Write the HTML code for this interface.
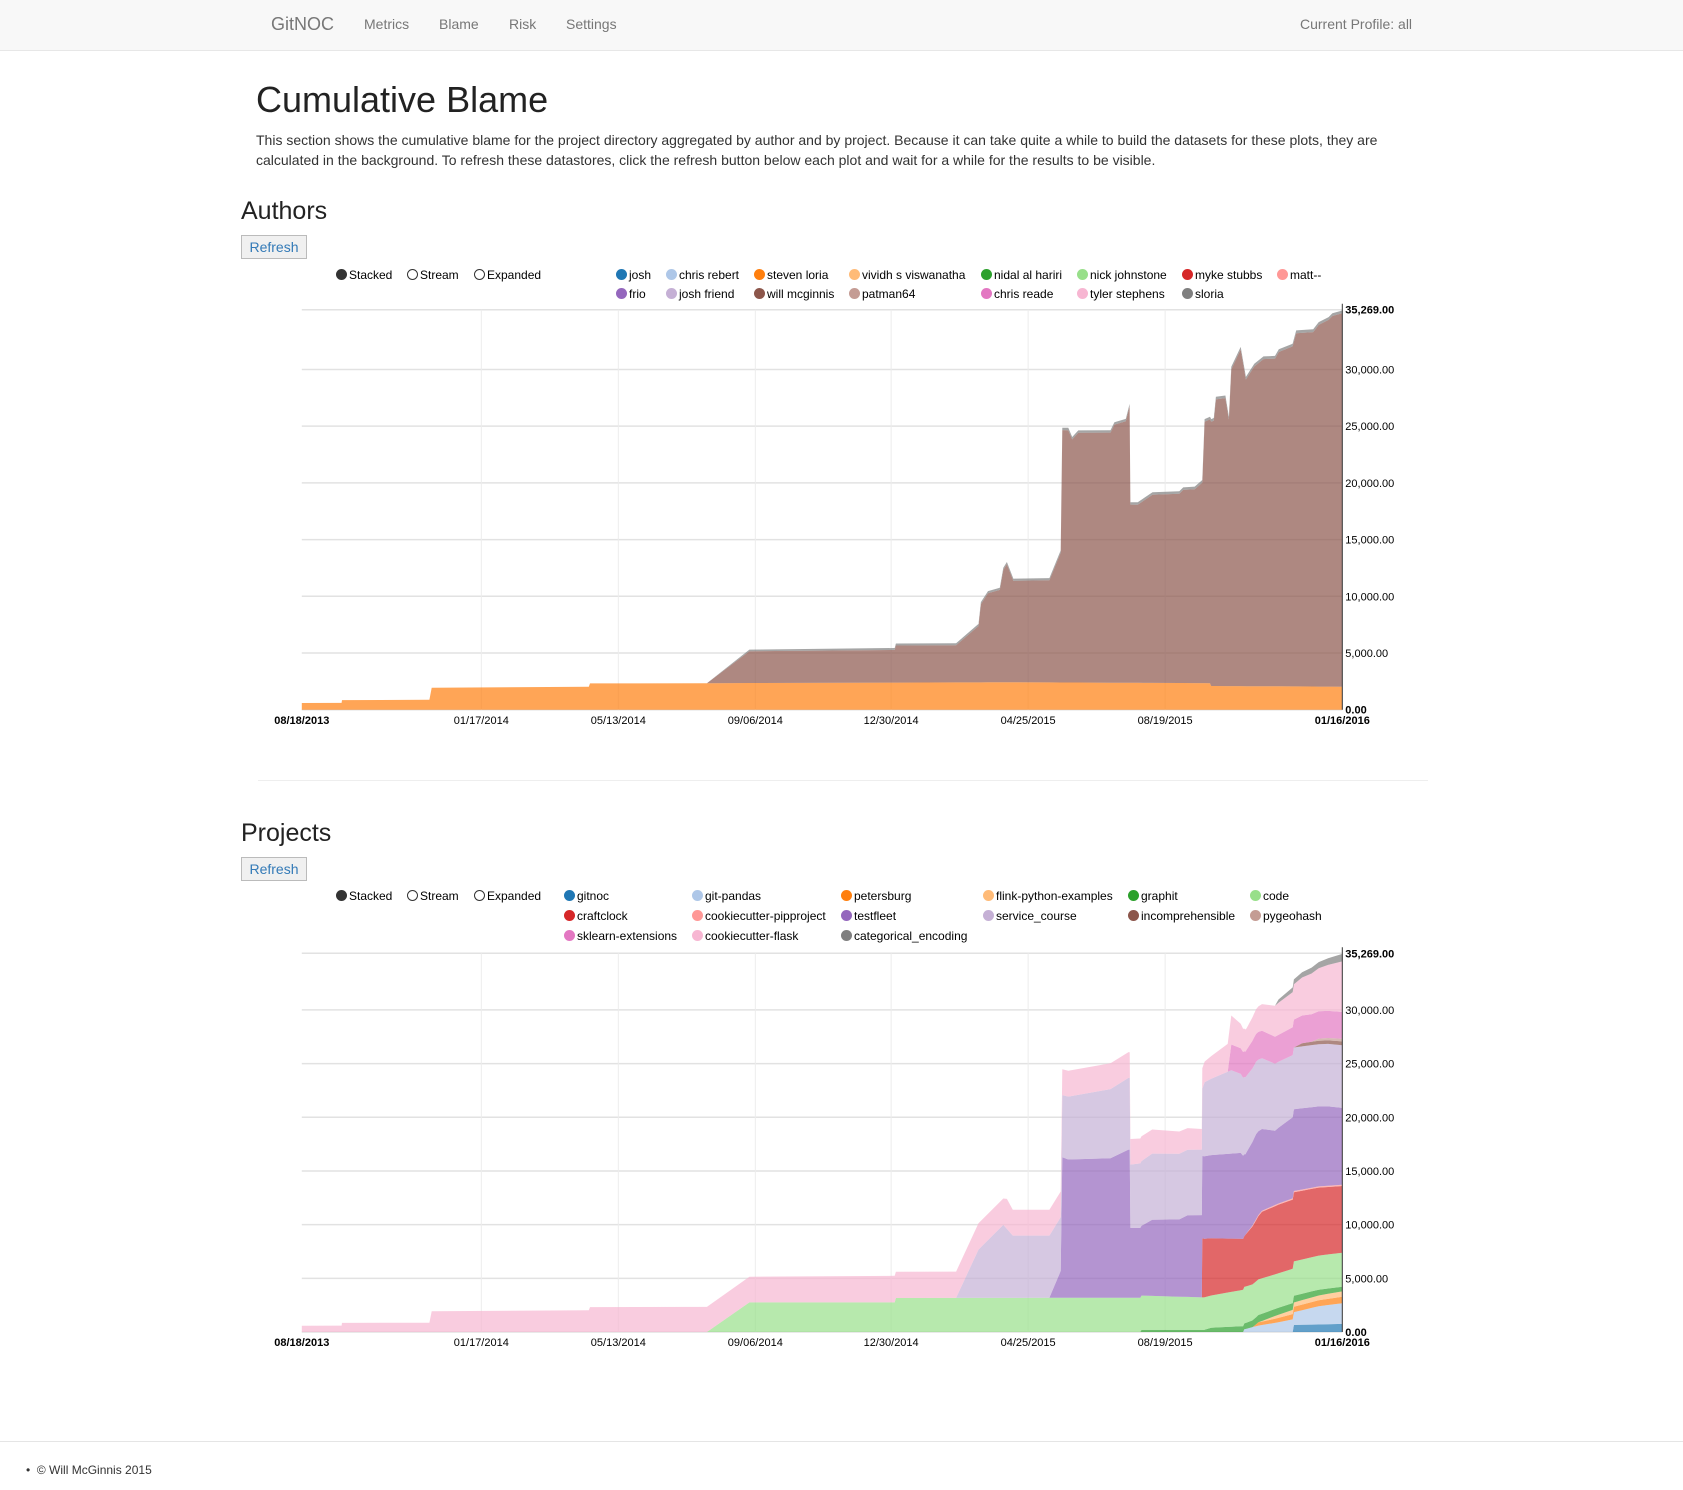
<!DOCTYPE html>
<html><head><meta charset="utf-8"><style>
body{margin:0;width:1683px;height:1490px;position:relative;font-family:"Liberation Sans",sans-serif;color:#333;background:#fff;overflow:hidden}
.abs{position:absolute;white-space:nowrap}
.nav{position:absolute;left:0;top:0;width:1683px;height:50px;background:#f8f8f8;border-bottom:1px solid #e7e7e7}
.nav span{position:absolute;top:16px;font-size:14px;color:#777}
.btn{position:absolute;width:64px;height:22px;border:1px solid #bbb;background:#f0f0f0;color:#337ab7;font-size:14px;text-align:center;line-height:22px;box-sizing:content-box}
.lg{position:absolute;font-size:12px;color:#000;white-space:nowrap}
.dot{display:inline-block;width:11px;height:11px;border-radius:50%;vertical-align:-1px;margin-right:2px;box-sizing:border-box}
svg{position:absolute;left:0;top:0}
</style></head><body>
<div class="nav">
<span style="left:271px;top:14px;font-size:18px">GitNOC</span>
<span style="left:364px">Metrics</span>
<span style="left:439px">Blame</span>
<span style="left:509px">Risk</span>
<span style="left:566px">Settings</span>
<span style="left:1300px">Current Profile: all</span>
</div>
<div class="abs" style="left:256px;top:79px;font-size:36px;color:#222">Cumulative Blame</div>
<div class="abs" style="left:256px;top:130px;font-size:14px;line-height:20px;white-space:normal;width:1160px">This section shows the cumulative blame for the project directory aggregated by author and by project. Because it can take quite a while to build the datasets for these plots, they are calculated in the background. To refresh these datastores, click the refresh button below each plot and wait for a while for the results to be visible.</div>
<div class="abs" style="left:241px;top:197px;font-size:25px;color:#222">Authors</div>
<div class="btn" style="left:241px;top:235px">Refresh</div>
<div class="abs" style="left:241px;top:819px;font-size:25px;color:#222">Projects</div>
<div class="btn" style="left:241px;top:857px">Refresh</div>
<div class="abs" style="left:258px;top:780px;width:1170px;height:1px;background:#eee"></div>
<div class="abs" style="left:0;top:1441px;width:1683px;height:1px;background:#e5e5e5"></div>
<div class="abs" style="left:26px;top:1463px;font-size:12px">•&nbsp;&nbsp;© Will McGinnis 2015</div>
<div id="legends"></div>
<svg id="chart" width="1683" height="1490"></svg>
<script>
const colors=['#1f77b4','#aec7e8','#ff7f0e','#ffbb78','#2ca02c','#98df8a','#d62728','#ff9896','#9467bd','#c5b0d5','#8c564b','#c49c94','#e377c2','#f7b6d2','#7f7f7f'];
const tickDays=[0,152,268,384,499,615,731,881];
const tickLabels=['08/18/2013','01/17/2014','05/13/2014','09/06/2014','12/30/2014','04/25/2015','08/19/2015','01/16/2016'];
const yTicks=[0,5000,10000,15000,20000,25000,30000,35269];
const yTickLabels=['0.00','5,000.00','10,000.00','15,000.00','20,000.00','25,000.00','30,000.00','35,269.00'];
const authorNames=['josh','chris rebert','steven loria','vividh s viswanatha','nidal al hariri','nick johnstone','myke stubbs','matt--','frio','josh friend','will mcginnis','patman64','chris reade','tyler stephens','sloria'];
const authorLoria=[[0,590],[33.7,600],[34,850],[108,870],[110,1940],[243,2030],[244,2320],[343,2340],[604,2420],[769,2340],[770,2090],[881,2030]];
const authorMcginnis=[[0,0],[343,0],[379,2800],[502,2880],[503,3270],[554,3270],[573,4970],[575,6890],[581,7850],[591,8150],[594,9910],[597,10410],[602.5,8940],[633,9000],[642.6,11440],[643.9,22250],[649,22250],[652.3,21440],[657.5,22030],[684.7,22050],[688,22760],[697.7,23050],[700.9,24380],[701.6,15710],[707.8,15710],[720.3,16590],[743,16680],[746.3,17030],[756,17100],[762.5,17680],[764.4,23050],[772.2,23400],[774,25270],[782,25390],[785,23510],[787,27920],[795,29680],[799.4,27040],[806.5,28200],[814.3,28850],[824,28900],[827.2,29480],[838.9,29980],[842,31150],[856.4,31250],[861,31890],[869.4,32330],[872.6,32680],[881,32920]];
const authorSloria=[[0,0],[343,0],[379,150],[881,250]];
const projNames=['gitnoc','git-pandas','petersburg','flink-python-examples','graphit','code','craftclock','cookiecutter-pipproject','testfleet','service_course','incomprehensible','pygeohash','sklearn-extensions','cookiecutter-flask','categorical_encoding'];
const pGitnoc=[[0,0],[839,0],[840,650],[881,750]];
const pGitPandas=[[0,0],[797,0],[798,250],[810,600],[827,900],[840,1200],[861,1700],[881,1930]];
const pPetersburg=[[0,0],[805,0],[810,300],[840,500],[881,600]];
const pFlink=[[0,0],[810,0],[827,300],[840,400],[881,500]];
const pGraphit=[[0,0],[710,0],[711,200],[764,200],[770,400],[798,550],[810,680],[827,650],[840,630],[881,440]];
const pCode=[[0,0],[343,0],[379,2760],[502,2760],[503,3170],[711,3190],[770,3000],[798,3400],[827,3200],[881,3170]];
const pCraftclock=[[0,0],[762,0],[762.5,5500],[798,4720],[806,5500],[813,6200],[827,6400],[840,6450],[881,6210]];
const pPipproject=[[0,0],[798,0],[806,100],[881,120]];
const pTestfleet=[[0,0],[633,0],[642.6,2500],[643.9,13100],[649,12880],[684.7,13000],[700,13800],[701,13800],[701.6,6510],[711,6500],[720,7100],[743,7200],[750,7600],[762,7660],[795,8000],[799,7500],[808,7920],[824,6920],[840,7610],[869,7390],[881,7150]];
const pService=[[0,0],[554,0],[573,4500],[594,6800],[602,5800],[633,5800],[642.6,5000],[643.9,5780],[700,6680],[701,6680],[701.6,5890],[720,6150],[762,6100],[764.4,6890],[787,7760],[806,6800],[840,5750],[881,5840]];
const pIncomp=[[0,0],[840,0],[847,300],[881,350]];
const pPygeohash=[[0,0],[855,0],[861,200],[881,250]];
const pSklearn=[[0,0],[784,0],[787,2400],[799,2400],[806,2600],[827,2500],[840,2600],[881,2500]];
const pFlask=[[0,590],[33.7,600],[34,850],[108,870],[110,1940],[243,2030],[244,2320],[343,2340],[379,2390],[502,2475],[503,2450],[594,2450],[597,2790],[602,2400],[700,2400],[764,1900],[787,2700],[800,2000],[827,3000],[840,3300],[861,4000],[881,4700]];
const pCategorical=[[0,0],[824,0],[827,300],[840,450],[881,700]];

const NS='http://www.w3.org/2000/svg';
const svg=document.getElementById('chart');
const X0=301.8,X1=1342.3,DMAX=881,YMAX=35269;
function interp(s,d){if(d<=s[0][0])return s[0][1];for(let i=1;i<s.length;i++){if(d<=s[i][0]){const a=s[i-1],b=s[i];return b[0]===a[0]?b[1]:a[1]+(b[1]-a[1])*(d-a[0])/(b[0]-a[0]);}}return s[s.length-1][1];}
function el(t,attrs){const e=document.createElementNS(NS,t);for(const k in attrs)e.setAttribute(k,attrs[k]);svg.appendChild(e);return e;}
function drawChart(prefix,seriesList,names,yBase,yTop,tickY){
  const xs=d=>X0+(X1-X0)*d/DMAX;
  const ys=v=>yBase-(yBase-yTop)*v/YMAX;
  yTicks.forEach((t,i)=>{
    const g=el('line',{x1:X0,x2:X1,y1:ys(t),y2:ys(t),stroke:'#e2e2e2','stroke-width':1.5});
    
    
    const tx=el('text',{x:X1+3,y:ys(t)+4,'font-size':11,'font-family':'Liberation Sans, sans-serif',fill:'#000','font-weight':(i===0||i===yTicks.length-1)?'bold':'normal'});
    tx.textContent=yTickLabels[i];
    
    
  });
  tickDays.forEach((d,i)=>{
    if(i>0&&i<tickDays.length-1){const g=el('line',{x1:xs(d),x2:xs(d),y1:yTop,y2:yBase,stroke:'#ececec','stroke-width':1});
    
    }
    const tx=el('text',{x:xs(d),y:tickY,'text-anchor':'middle','font-size':11,'font-family':'Liberation Sans, sans-serif',fill:'#000','font-weight':(i===0||i===tickDays.length-1)?'bold':'normal'});
    tx.textContent=tickLabels[i];
    
    
  });
  let days=[];seriesList.forEach(s=>s.data.forEach(p=>days.push(p[0])));
  days=[...new Set(days)].sort((a,b)=>a-b);
  let base=days.map(()=>0);
  seriesList.forEach(s=>{
    const top=days.map((d,i)=>base[i]+interp(s.data,d));
    let p='M'+days.map((d,i)=>xs(d).toFixed(1)+','+ys(top[i]).toFixed(1)).join('L');
    for(let i=days.length-1;i>=0;i--)p+='L'+xs(days[i]).toFixed(1)+','+ys(base[i]).toFixed(1);
    p+='Z';
    const a=el('path',{d:p,fill:s.color,'fill-opacity':0.7,stroke:'none'});
    
    
    base=top;
  });
  const ax=el('line',{x1:X1,x2:X1,y1:yTop-6,y2:yBase,stroke:'#333','stroke-width':1});
  
  
}
const authorSeries=[{name:'steven loria',color:colors[2],data:authorLoria},{name:'will mcginnis',color:colors[10],data:authorMcginnis},{name:'sloria',color:colors[14],data:authorSloria}];
drawChart('authors',authorSeries,authorNames,709.7,309.7,724);
const projData=[pGitnoc,pGitPandas,pPetersburg,pFlink,pGraphit,pCode,pCraftclock,pPipproject,pTestfleet,pService,pIncomp,pPygeohash,pSklearn,pFlask,pCategorical];
const projSeries=projData.map((d,i)=>({name:projNames[i],color:colors[i],data:d}));
drawChart('projects',projSeries,projNames,1332,953.3,1346);

const L=document.getElementById('legends');
function legend(text,color,x,y,hollow,nm){
  const d=document.createElement('div');d.className='lg';d.style.left=x+'px';d.style.top=(y-7)+'px';
  d.innerHTML='<span class="dot" style="'+(hollow?'border:1.5px solid #333;background:#fff':'background:'+color)+'"></span>'+text;
  
  
  L.appendChild(d);
}
[[336,'Stacked',false],[407,'Stream',true],[474,'Expanded',true]].forEach(c=>{legend(c[1],'#333',c[0],275,c[2],'authors-mode-'+c[1].toLowerCase());legend(c[1],'#333',c[0],896,c[2],'projects-mode-'+c[1].toLowerCase());});
const aX=[616,666,754,849,981,1077,1182,1277];
authorNames.forEach((n,i)=>{legend(n,colors[i],aX[i%8],i<8?275:294,false,'authors-legend-entry');});
const pX=[564,692,841,983,1128,1250];
projNames.forEach((n,i)=>{legend(n,colors[i],pX[i%6],896+Math.floor(i/6)*20,false,'projects-legend-entry');});
</script>
</body></html>
